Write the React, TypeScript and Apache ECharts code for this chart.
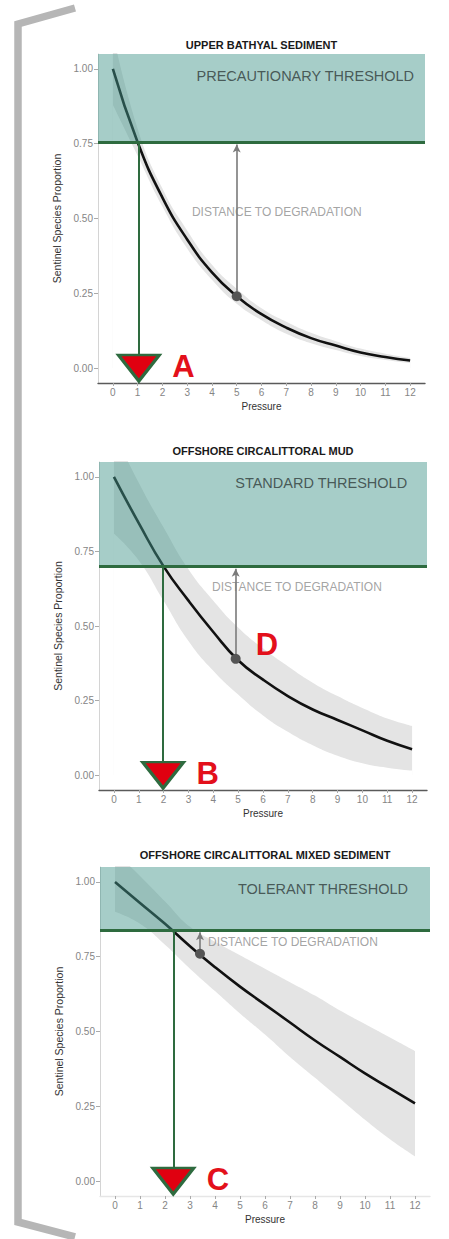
import React, { useEffect, useRef } from "react";
import * as echarts from "echarts";

// ---------- data ----------
const pressure = [0, 1, 2, 3, 4, 5, 6, 7, 8, 9, 10, 11, 12];
const xTicks = [0, 1, 2, 3, 4, 5, 6, 7, 8, 9, 10, 11, 12];
const yTicks = [0, 0.25, 0.5, 0.75, 1];

const panelTitles = [
  "UPPER BATHYAL SEDIMENT",
  "OFFSHORE CIRCALITTORAL MUD",
  "OFFSHORE CIRCALITTORAL MIXED SEDIMENT",
];
const thresholdNames = ["PRECAUTIONARY THRESHOLD", "STANDARD THRESHOLD", "TOLERANT THRESHOLD"];
const thresholdValues = [0.755, 0.7, 0.84];
const crossingPressure = [1.05, 1.98, 2.33];
const crossingLetters = ["A", "B", "C"];
const sitePressure = [5, 4.9, 3.4];
const siteProportion = [0.24, 0.39, 0.76];
const siteLetters = ["", "D", ""];
const distanceLabel = "DISTANCE TO DEGRADATION";
const distanceLabelPos = [
  [3.19, 0.523],
  [3.95, 0.63],
  [3.72, 0.8],
];
const thresholdLabelPos = [
  [12.16, 0.977],
  [11.8, 0.98],
  [11.72, 0.976],
];

// Upper bathyal sediment
const curveUB = [1.0, 0.755, 0.57, 0.43, 0.32, 0.24, 0.18, 0.135, 0.1, 0.075, 0.052, 0.037, 0.025];
const lowerUB = [0.88, 0.71, 0.54, 0.4, 0.295, 0.215, 0.16, 0.115, 0.083, 0.06, 0.04, 0.027, 0.017];
const upperUB = [1.12, 0.8, 0.6, 0.46, 0.345, 0.265, 0.2, 0.155, 0.118, 0.09, 0.065, 0.048, 0.034];
// Offshore circalittoral mud
const curveOM = [1.0, 0.845, 0.7, 0.585, 0.48, 0.385, 0.32, 0.265, 0.22, 0.185, 0.15, 0.115, 0.087];
const lowerOM = [0.81, 0.72, 0.585, 0.45, 0.35, 0.27, 0.2, 0.145, 0.1, 0.065, 0.04, 0.025, 0.015];
const upperOM = [1.15, 0.98, 0.83, 0.69, 0.585, 0.495, 0.425, 0.365, 0.31, 0.265, 0.225, 0.19, 0.165];
// Offshore circalittoral mixed sediment
const curveMS = [1.0, 0.93, 0.86, 0.785, 0.715, 0.65, 0.59, 0.53, 0.47, 0.415, 0.36, 0.31, 0.26];
const lowerMS = [0.9, 0.86, 0.79, 0.71, 0.635, 0.56, 0.49, 0.415, 0.345, 0.275, 0.205, 0.14, 0.083];
const upperMS = [1.1, 1.02, 0.935, 0.85, 0.8, 0.755, 0.71, 0.665, 0.62, 0.57, 0.525, 0.48, 0.435];

const curves = [curveUB, curveOM, curveMS];
const lowers = [lowerUB, lowerOM, lowerMS];
const uppers = [upperUB, upperOM, upperMS];

// ---------- layout / style ----------
const grids = [
  { left: 98, top: 54, width: 327, height: 329 },
  { left: 99, top: 462, width: 328, height: 328 },
  { left: 100, top: 867, width: 330, height: 329 },
];
const titleY = [45, 451, 855];
const XMIN = -0.6;
const XMAX = 12.6;
const YMIN = -0.05;
const YMAX = 1.05;
const FONT = "Liberation Sans";
const TEAL = "rgba(66,149,138,0.47)";
const GREEN = "#2e6b3f";
const RED = "#e3101b";
const TRI = "path://M0,0L40,0L20,26Z";

function buildPanel(i: number) {
  const thr = thresholdValues[i];
  const zip = (ys: number[]) => pressure.map((x, k) => [x, ys[k]]);
  const series: any[] = [
    // confidence band: grey area under upper bound, masked in white under lower bound
    {
      type: "line",
      xAxisIndex: i,
      yAxisIndex: i,
      data: zip(uppers[i]),
      smooth: true,
      symbol: "none",
      lineStyle: { opacity: 0 },
      areaStyle: { color: "#e4e4e4", opacity: 1, origin: 0 },
      silent: true,
      z: 1,
    },
    {
      type: "line",
      xAxisIndex: i,
      yAxisIndex: i,
      data: zip(lowers[i]),
      smooth: true,
      symbol: "none",
      lineStyle: { opacity: 0 },
      areaStyle: { color: "#ffffff", opacity: 1, origin: 0 },
      silent: true,
      z: 1.5,
    },
    {
      type: "line",
      xAxisIndex: i,
      yAxisIndex: i,
      data: zip(curves[i]),
      smooth: true,
      symbol: "none",
      lineStyle: { color: "#111", width: 2.6 },
      silent: true,
      z: 3,
    },
    {
      type: "line",
      xAxisIndex: i,
      yAxisIndex: i,
      data: [[XMAX, thr]],
      symbol: "none",
      showSymbol: false,
      lineStyle: { opacity: 0 },
      silent: true,
      z: 4,
      markArea: {
        silent: true,
        z: 4,
        itemStyle: { color: TEAL },
        label: { show: false },
        data: [[{ xAxis: XMIN, yAxis: thr }, { xAxis: XMAX, yAxis: YMAX }]],
      },
      markLine: {
        silent: true,
        z: 6,
        symbol: ["none", "none"],
        label: { show: false },
        lineStyle: { color: GREEN, width: 3, type: "solid" },
        data: [[{ coord: [XMIN, thr] }, { coord: [XMAX, thr] }]],
      },
    },
    // drop line + triangle marker
    {
      type: "scatter",
      xAxisIndex: i,
      yAxisIndex: i,
      data: [[crossingPressure[i], 0]],
      symbol: TRI,
      symbolSize: [41, 26],
      symbolKeepAspect: false,
      itemStyle: { color: "#e00010", borderColor: GREEN, borderWidth: 3, opacity: 1 },
      label: {
        show: true,
        formatter: crossingLetters[i],
        position: "right",
        distance: 11,
        fontSize: 31,
        fontWeight: "bold",
        fontFamily: FONT,
        color: RED,
        offset: [0, -2],
      },
      silent: true,
      z: 8,
      markLine: {
        silent: true,
        z: 5,
        symbol: ["none", "none"],
        label: { show: false },
        lineStyle: { color: GREEN, width: 2, type: "solid" },
        data: [[{ coord: [crossingPressure[i], thr] }, { coord: [crossingPressure[i], 0.02] }]],
      },
    },
    // site point + arrow
    {
      type: "scatter",
      xAxisIndex: i,
      yAxisIndex: i,
      data: [[sitePressure[i], siteProportion[i]]],
      symbolSize: 10,
      itemStyle: { color: "#555", opacity: 1 },
      label: {
        show: siteLetters[i] !== "",
        formatter: siteLetters[i],
        position: "right",
        distance: 15,
        offset: [0, -14],
        fontSize: 31,
        fontWeight: "bold",
        fontFamily: FONT,
        color: RED,
      },
      silent: true,
      z: 8,
      markLine: {
        silent: true,
        z: 5,
        symbol: ["none", "arrow"],
        symbolSize: [6, 8],
        label: { show: false },
        lineStyle: { color: "#7a7a7a", width: 1.6, type: "solid" },
        itemStyle: { color: "#7a7a7a" },
        data: [[{ coord: [sitePressure[i], siteProportion[i]] }, { coord: [sitePressure[i], thr - 0.008] }]],
      },
    },
    // distance text
    {
      type: "scatter",
      xAxisIndex: i,
      yAxisIndex: i,
      data: [distanceLabelPos[i]],
      symbolSize: 0,
      itemStyle: { color: "rgba(0,0,0,0)" },
      label: {
        show: true,
        formatter: distanceLabel,
        position: "right",
        distance: 0,
        fontSize: 12,
        fontFamily: FONT,
        color: "#8c8c8c",
      },
      silent: true,
      z: 4,
    },
    // threshold name
    {
      type: "scatter",
      xAxisIndex: i,
      yAxisIndex: i,
      data: [thresholdLabelPos[i]],
      symbolSize: 0,
      itemStyle: { color: "rgba(0,0,0,0)" },
      label: {
        show: true,
        formatter: thresholdNames[i],
        position: "left",
        distance: 0,
        fontSize: 14.5,
        fontFamily: FONT,
        color: "#2f3a39",
      },
      silent: true,
      z: 8,
    },
  ];

  const xAxis = {
    type: "value",
    gridIndex: i,
    min: XMIN,
    max: XMAX,
    splitLine: { show: false },
    axisLine: {
      show: true,
      onZero: false,
      lineStyle: { color: i === 2 ? "#e6e6e6" : "#5a5a5a", width: 1.4 },
    },
    axisTick: { show: true, length: 3, customValues: xTicks, lineStyle: { color: "#aaa" } },
    axisLabel: { customValues: xTicks, color: "#858585", fontSize: 10, margin: 4, fontFamily: FONT },
    name: "Pressure",
    nameLocation: "middle",
    nameGap: 18,
    nameTextStyle: { color: "#333", fontSize: 10, fontFamily: FONT },
  };
  const yAxis = {
    type: "value",
    gridIndex: i,
    min: YMIN,
    max: YMAX,
    splitLine: { show: false },
    axisLine: { show: true, onZero: false, lineStyle: { color: "#d4d4d4", width: 1 } },
    axisTick: { show: true, length: 4, customValues: yTicks, lineStyle: { color: "#aaa" } },
    axisLabel: {
      customValues: yTicks,
      formatter: (v: number) => v.toFixed(2),
      color: "#858585",
      fontSize: 10,
      margin: 5,
      fontFamily: FONT,
    },
    name: "Sentinel Species Proportion",
    nameLocation: "middle",
    nameGap: 34,
    nameTextStyle: { color: "#333", fontSize: 10.5, fontFamily: FONT },
  };
  return { xAxis, yAxis, series };
}

export default function App() {
  const ref = useRef<HTMLDivElement>(null);
  useEffect(() => {
    if (!ref.current) return;
    const chart = echarts.init(ref.current, undefined, { renderer: "svg" });
    const panels = [0, 1, 2].map(buildPanel);
    const graphic: any[] = [
      {
        type: "polyline",
        shape: {
          points: [
            [75, 8],
            [18, 24],
            [18, 1222],
            [75, 1237],
          ],
        },
        style: { stroke: "#b6b6b6", lineWidth: 7.5, fill: null, lineJoin: "miter" },
        silent: true,
      },
      ...panelTitles.map((t, i) => ({
        type: "text",
        x: grids[i].left + grids[i].width / 2,
        y: titleY[i],
        style: {
          text: t,
          align: "center",
          verticalAlign: "middle",
          fontSize: 11,
          fontWeight: "bold",
          fontFamily: FONT,
          fill: "#1a1a1a",
        },
        silent: true,
      })),
    ];
    chart.setOption({
      animation: false,
      backgroundColor: "#ffffff",
      textStyle: { fontFamily: FONT },
      grid: grids.map((g) => ({ ...g, containLabel: false })),
      xAxis: panels.map((p) => p.xAxis),
      yAxis: panels.map((p) => p.yAxis),
      series: panels.flatMap((p) => p.series),
      graphic,
    });
    return () => chart.dispose();
  }, []);
  return (
    <div
      ref={ref}
      style={{ position: "fixed", left: 0, top: 0, width: 449, height: 1239, background: "#fff" }}
    />
  );
}
